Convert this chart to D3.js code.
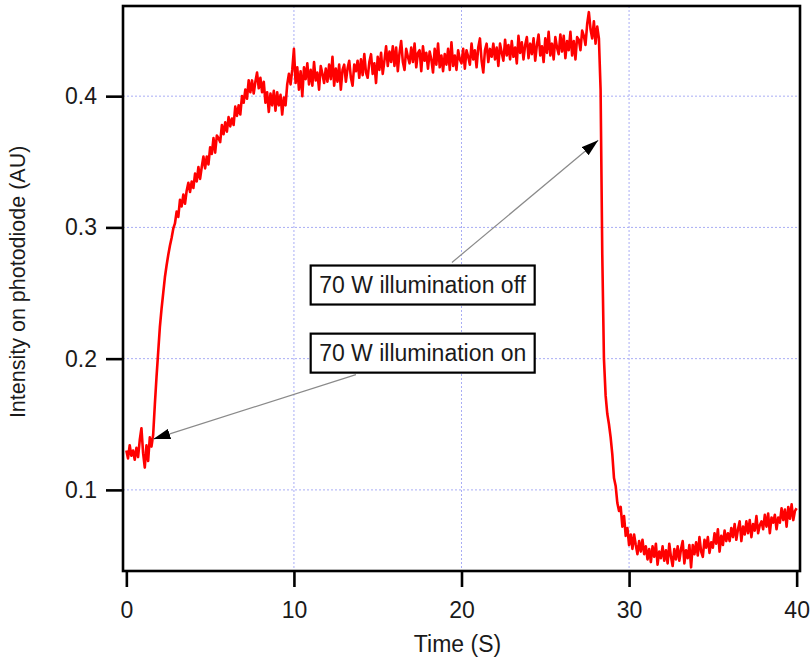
<!DOCTYPE html>
<html>
<head>
<meta charset="utf-8">
<script src="https://cdn.jsdelivr.net/npm/d3@7/dist/d3.min.js"></script>
<style>
  body { margin: 0; background: #fff; }
  text { font-family: "Liberation Sans", Arial, sans-serif; fill: #1a1a1a; }
</style>
</head>
<body>
<script>
// photodiode trace, one sample every 0.1 s
var sampleStep = 0.1;

var intensity0to10 = [
  .130,.124,.134,.126,.130,.123,.132,.125,.138,.147,
  .128,.117,.134,.122,.140,.133,.142,.165,.186,.205,
  .224,.238,.250,.262,.271,.279,.286,.292,.299,.303,
  .312,.308,.321,.316,.325,.318,.328,.334,.327,.335,
  .330,.341,.335,.346,.337,.346,.354,.345,.354,.348,
  .361,.356,.368,.357,.370,.368,.365,.378,.371,.380,
  .373,.384,.377,.383,.378,.392,.385,.393,.386,.400,
  .395,.405,.398,.412,.403,.412,.402,.411,.418,.406,
  .414,.403,.411,.395,.403,.388,.402,.393,.404,.389,
  .403,.393,.401,.386,.399,.393,.409,.417,.409,.420
];
var intensity10to20 = [
  .436,.410,.422,.405,.419,.400,.422,.413,.425,.409,
  .420,.408,.426,.412,.418,.405,.423,.417,.410,.421,
  .411,.424,.413,.430,.408,.421,.411,.424,.405,.420,
  .424,.411,.421,.427,.414,.408,.424,.419,.427,.414,
  .428,.416,.432,.418,.414,.426,.432,.417,.425,.410,
  .430,.420,.433,.417,.427,.438,.423,.434,.426,.438,
  .423,.437,.419,.433,.442,.426,.420,.436,.430,.425,
  .437,.426,.440,.422,.433,.435,.419,.438,.427,.433,
  .421,.434,.428,.418,.436,.424,.440,.422,.431,.419,
  .432,.424,.436,.420,.441,.423,.431,.420,.435,.428
];
var intensity20to30 = [
  .425,.436,.421,.435,.430,.424,.440,.428,.435,.422,
  .437,.444,.427,.418,.435,.440,.426,.436,.430,.440,
  .428,.437,.423,.440,.433,.427,.443,.431,.439,.428,
  .442,.430,.437,.425,.446,.433,.441,.428,.439,.445,
  .429,.440,.432,.444,.427,.439,.447,.431,.438,.426,
  .444,.433,.449,.431,.440,.428,.445,.437,.432,.447,
  .434,.446,.429,.442,.435,.449,.431,.442,.428,.445,
  .443,.435,.450,.446,.439,.455,.464,.451,.444,.457,
  .440,.453,.444,.405,.280,.200,.172,.158,.150,.140,
  .127,.109,.103,.090,.084,.087,.072,.080,.065,.071
];
var intensity30to40 = [
  .058,.066,.055,.066,.058,.051,.061,.053,.062,.051,
  .057,.047,.055,.045,.057,.049,.059,.043,.053,.048,
  .057,.046,.054,.044,.059,.049,.042,.055,.047,.057,
  .046,.055,.061,.044,.054,.048,.058,.041,.058,.051,
  .060,.050,.064,.053,.049,.062,.056,.064,.052,.060,
  .056,.067,.059,.070,.053,.065,.058,.069,.061,.067,
  .061,.071,.064,.074,.062,.070,.076,.061,.072,.066,
  .076,.067,.077,.064,.074,.069,.080,.067,.073,.076,
  .070,.081,.072,.082,.067,.079,.075,.081,.070,.079,
  .075,.086,.077,.085,.072,.087,.078,.089,.077,.084,
  .086
];

var xTicks = [0, 10, 20, 30, 40];
var yTicks = [0.1, 0.2, 0.3, 0.4];
var xGrid = [10, 20, 30];

// callouts, in data units
var callouts = [
  { label: "70 W illumination off", boxT: 11.0, boxV: 0.2561, fromT: 19.43, fromV: 0.2733, tipT: 28.16, tipV: 0.3664 },
  { label: "70 W illumination on",  boxT: 11.0, boxV: 0.2042, fromT: 13.70, fromV: 0.1878, tipT: 1.61,  tipV: 0.1387 }
];

var margin = { top: 6, right: 12, bottom: 88, left: 123 };
var width = 812 - margin.left - margin.right;
var height = 659 - margin.top - margin.bottom;

var x = d3.scaleLinear().domain([-0.2, 40.2]).range([0, width]);
var y = d3.scaleLinear().domain([0.0382, 0.4687]).range([height, 0]);

var data = intensity0to10.concat(intensity10to20, intensity20to30, intensity30to40)
  .map(function (v, i) { return { t: i * sampleStep, v: v }; });

var svg = d3.select("body").append("svg")
    .attr("width", 812)
    .attr("height", 659)
  .append("g")
    .attr("transform", "translate(" + margin.left + "," + margin.top + ")");

// dotted grid
svg.selectAll(".gx").data(xGrid).enter().append("line")
    .attr("x1", function (d) { return x(d); })
    .attr("x2", function (d) { return x(d); })
    .attr("y1", 0).attr("y2", height)
    .attr("stroke", "#a9adf5").attr("stroke-width", 1).attr("stroke-dasharray", "2,2");
svg.selectAll(".gy").data(yTicks).enter().append("line")
    .attr("y1", function (d) { return y(d); })
    .attr("y2", function (d) { return y(d); })
    .attr("x1", 0).attr("x2", width)
    .attr("stroke", "#a9adf5").attr("stroke-width", 1).attr("stroke-dasharray", "2,2");

// trace
var valueline = d3.line()
    .x(function (d) { return x(d.t); })
    .y(function (d) { return y(d.v); });

svg.append("path")
    .datum(data)
    .attr("fill", "none")
    .attr("stroke", "#ff0000")
    .attr("stroke-width", 2.6)
    .attr("stroke-linejoin", "round")
    .attr("d", valueline);

// frame
svg.append("rect")
    .attr("width", width).attr("height", height)
    .attr("fill", "none").attr("stroke", "#000").attr("stroke-width", 2.6);

// axes
var xAxis = svg.append("g")
    .attr("transform", "translate(0," + height + ")")
    .call(d3.axisBottom(x).tickValues(xTicks).tickSize(16).tickPadding(15).tickFormat(d3.format("d")));
var yAxis = svg.append("g")
    .call(d3.axisLeft(y).tickValues(yTicks).tickSize(17).tickPadding(9).tickFormat(d3.format(".1f")));

[xAxis, yAxis].forEach(function (a) {
  a.select(".domain").remove();
  a.selectAll(".tick line").attr("stroke", "#000").attr("stroke-width", 2.6);
  a.selectAll(".tick text").attr("font-size", 23).attr("fill", "#1a1a1a")
    .style("font-family", "'Liberation Sans', Arial, sans-serif");
});

// axis titles
svg.append("text")
    .attr("x", width / 2 - 4)
    .attr("y", height + 81)
    .attr("text-anchor", "middle")
    .attr("font-size", 23)
    .text("Time (S)");

svg.append("text")
    .attr("transform", "translate(" + (-98) + "," + (y(0.2585)) + ") rotate(-90)")
    .attr("text-anchor", "middle")
    .attr("font-size", 21.5)
    .text("Intensity on photodiode (AU)");

// arrowhead
svg.append("defs").append("marker")
    .attr("id", "head")
    .attr("viewBox", "0 0 16 10")
    .attr("refX", 16).attr("refY", 5)
    .attr("markerUnits", "userSpaceOnUse")
    .attr("markerWidth", 17).attr("markerHeight", 11)
    .attr("orient", "auto")
  .append("path")
    .attr("d", "M0,0L16,5L0,10Z")
    .attr("fill", "#000");

var boxW = 224, boxH = 39;
var call = svg.selectAll(".callout").data(callouts).enter().append("g");

call.append("line")
    .attr("x1", function (d) { return x(d.fromT); })
    .attr("y1", function (d) { return y(d.fromV); })
    .attr("x2", function (d) { return x(d.tipT); })
    .attr("y2", function (d) { return y(d.tipV); })
    .attr("stroke", "#8a8a8a").attr("stroke-width", 1.2)
    .attr("marker-end", "url(#head)");

call.append("rect")
    .attr("x", function (d) { return x(d.boxT); })
    .attr("y", function (d) { return y(d.boxV) - boxH / 2; })
    .attr("width", boxW).attr("height", boxH)
    .attr("fill", "#fff").attr("stroke", "#000").attr("stroke-width", 2.2);

call.append("text")
    .attr("x", function (d) { return x(d.boxT) + boxW / 2; })
    .attr("y", function (d) { return y(d.boxV) + 8; })
    .attr("text-anchor", "middle")
    .attr("font-size", 23)
    .text(function (d) { return d.label; });
</script>
</body>
</html>
